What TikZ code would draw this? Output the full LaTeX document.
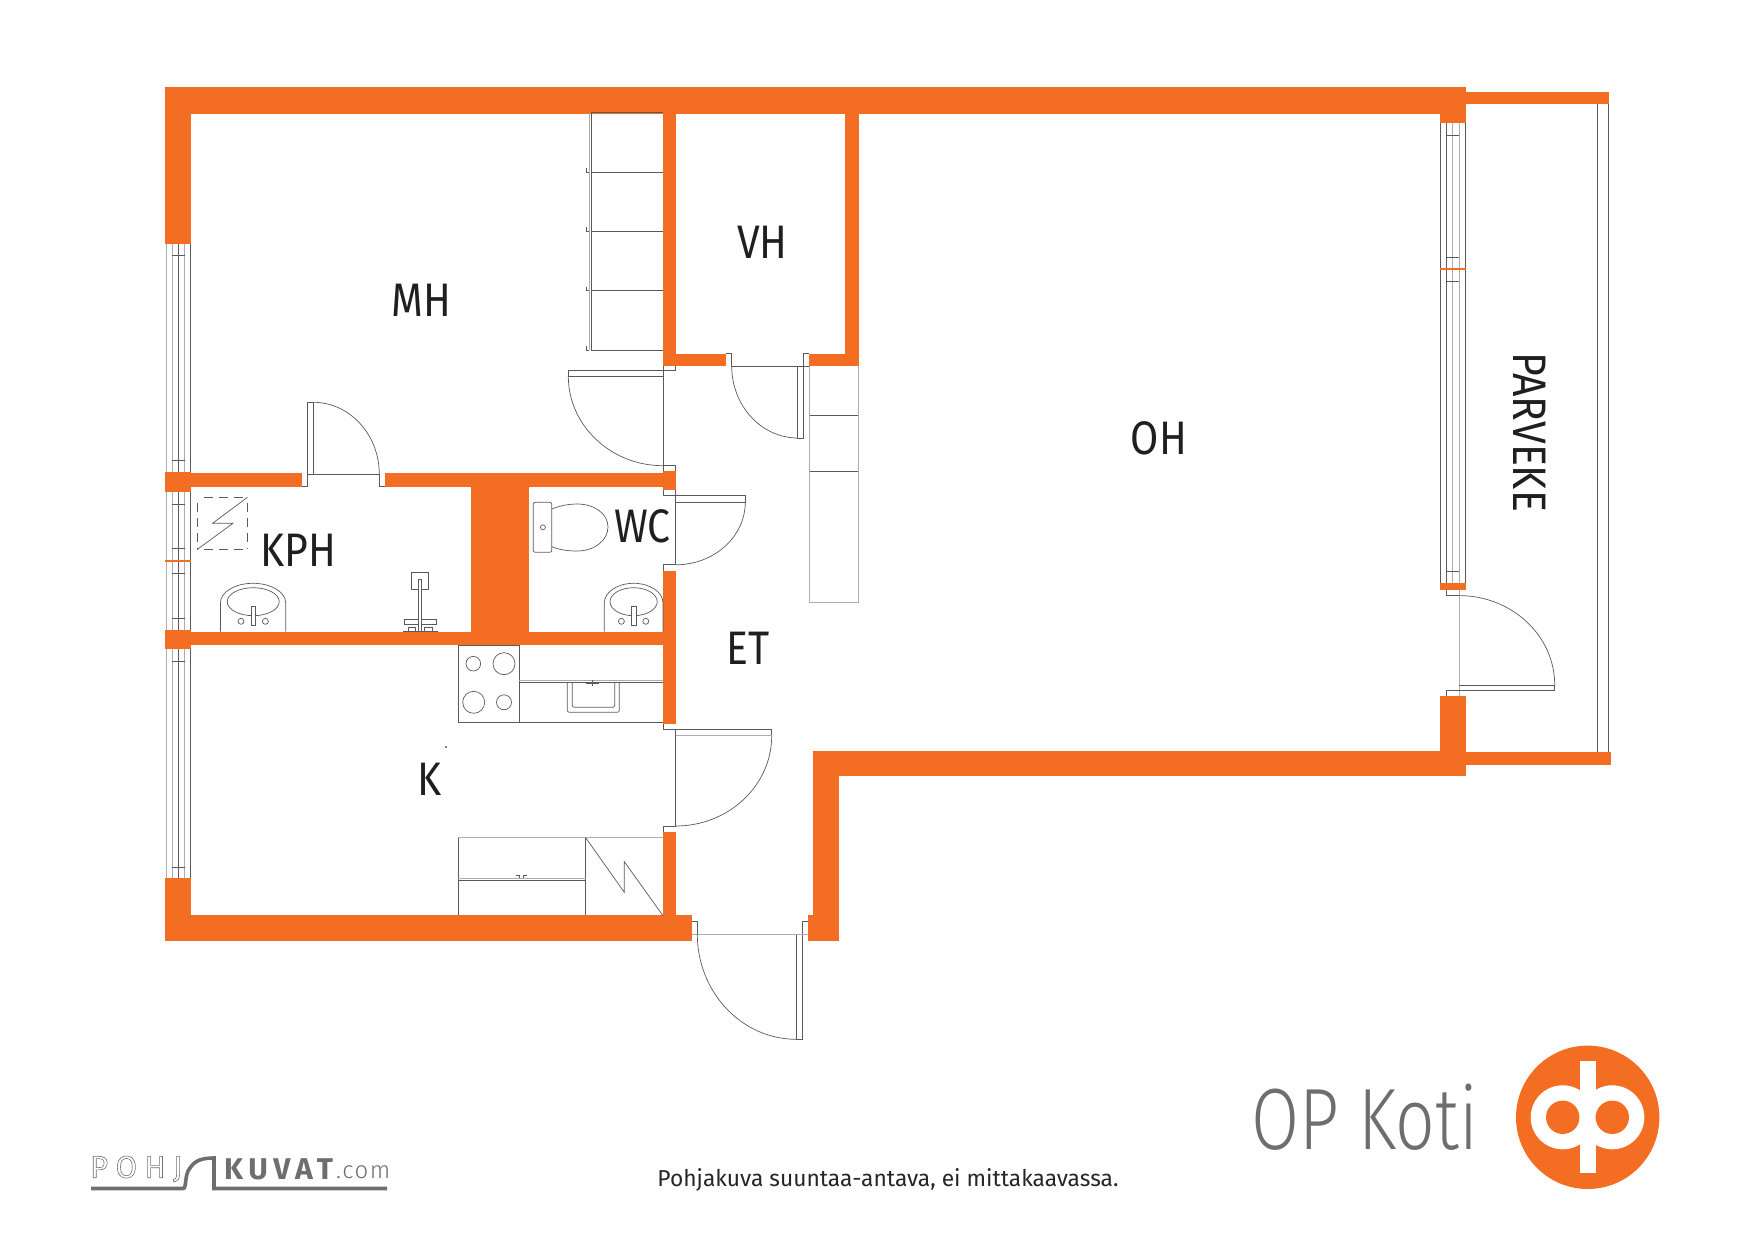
\documentclass[tikz,border=0pt]{standalone}
\usepackage{fontspec}
\setmainfont{Fira Sans}
\newfontfamily\roomfont[FakeStretch=.87]{Fira Sans}
\newfontfamily\kotifont[FakeStretch=.80]{Fira Sans Light}
\newfontfamily\notefont[FakeStretch=.99]{Fira Sans}
\newfontfamily\pohjfont[LetterSpace=24]{Fira Sans}
\newfontfamily\brandfont[LetterSpace=18]{Fira Sans}
\newfontfamily\comfont[LetterSpace=6]{Fira Sans Light}
\definecolor{oporange}{HTML}{F36E22}
\definecolor{linedark}{HTML}{5A5A5A}
\definecolor{linegray}{HTML}{ADADAD}
\definecolor{brandgray}{HTML}{6E6E6E}
\newcommand{\outlinetext}[1]{\special{pdf:code 1 Tr 0.6 w}#1\special{pdf:code 0 Tr}}
\newcommand{\swingarc}[4]{\draw[plan] (#1,#2) .. controls ({#1+.552*(#3-#1)},#2) and (#3,{#4-.552*(#4-#2)}) .. (#3,#4);}
\newcommand{\basin}[5]{
    \draw[plan] (#1,631.7) -- (#1,603) .. controls (#1,592) and ({#1+.224*(#2-#1)},583.3) .. ({.5*(#1+#2)},583.3) .. controls ({#2-.224*(#2-#1)},583.3) and (#2,592) .. (#2,603) -- (#2,631.7);
    \draw[plan] (#3,601.7) ellipse [x radius=#4, y radius=14];
    \draw[plan,fill=white] ({#3-2.3},606) rectangle ({#3+2.3},625);
    \draw[plan] ({#3-#5},621.3) circle (3) ({#3+#5},621.3) circle (3);
}
\tikzset{
    wall/.style={fill=oporange},
    plan/.style={draw=linedark,line width=.7pt},
    gline/.style={draw=linegray,line width=1pt},
    roomlabel/.style={font=\roomfont\fontsize{47}{47}\selectfont,inner sep=0pt,text=black!88},
}
\begin{document}
\begin{tikzpicture}[x=1pt,y=-1pt]
    \useasboundingbox (0,0) rectangle (1754,1241);

    % windows on the left
    \foreach \ya/\yb in {244/472,492/630,649/878}{
        \foreach \x in {178.5,190.7}{\draw[plan] (\x,\ya) -- (\x,\yb);}
        \foreach \x in {166,172,184.5}{\draw[gline] (\x,\ya) -- (\x,\yb);}
    }
    \foreach \y in {255,460,504,548,573,618,661,867}{\draw[plan] (172,\y) -- (184.5,\y);}
    \draw[oporange,line width=1.2pt] (165,561) -- (191,561);

    % balcony window and rail
    \foreach \x in {1440.5,1446.3,1465.7}{\draw[plan] (\x,123) -- (\x,584);}
    \foreach \x in {1452.5,1459}{\draw[gline] (\x,123) -- (\x,584);}
    \foreach \y in {135,257,281,571}{\draw[plan] (1446.3,\y) -- (1459,\y);}
    \draw[oporange,line width=1.2pt] (1440,269) -- (1465.7,269);
    \draw[plan] (1597.3,104) -- (1597.3,752) (1608.3,104) -- (1608.3,752);

    % walls
    \fill[wall] (165,87) rectangle (1465.7,113.6);
    \fill[wall] (165,87) rectangle (191,244);
    \fill[wall] (1440,87) rectangle (1465.7,123);
    \fill[wall] (1465.7,92) rectangle (1609,104.5);
    \fill[wall] (663,113) rectangle (676,366);
    \fill[wall] (845,113) rectangle (858.6,366);
    \fill[wall] (663,353.8) rectangle (726,366);
    \fill[wall] (809.3,353.8) rectangle (858.6,366);
    \fill[wall] (165,473) rectangle (301.8,487);
    \fill[wall] (165,472) rectangle (191,492);
    \fill[wall] (384.6,473) rectangle (675.7,487);
    \fill[wall] (663,470.7) rectangle (675.7,490);
    \fill[wall] (470.7,473) rectangle (529,645);
    \fill[wall] (165,631.7) rectangle (663,645);
    \fill[wall] (165,630) rectangle (191,649);
    \fill[wall] (663,570.7) rectangle (675.7,724);
    \fill[wall] (663,831.7) rectangle (675.7,915);
    \fill[wall] (165,877.7) rectangle (191,940.7);
    \fill[wall] (165,915) rectangle (691.7,940.7);
    \fill[wall] (813.3,750.6) rectangle (839.3,940.7);
    \fill[wall] (808,915) rectangle (813.3,940.7);
    \fill[wall] (813.3,750.6) rectangle (1465.7,776);
    \fill[wall] (1440,696) rectangle (1465.7,776);
    \fill[wall] (1440,583) rectangle (1465.7,590);
    \fill[wall] (1465.7,752) rectangle (1610.7,765);

    % wardrobes
    \draw[plan] (663,112.7) -- (591.5,112.7) -- (591.5,350) -- (663,350);
    \draw[gline] (589.3,112.7) -- (589.3,350);
    \foreach \y in {172.3,231.3,290.7}{\draw[plan] (591.5,\y) -- (663,\y);}
    \foreach \y in {172.3,231.3,290.7,350}{\draw[plan] (586,{\y-4}) -- (586,\y) -- (589.3,\y);}
    \draw[gline] (809.7,366) -- (809.7,602.7) -- (858.3,602.7) -- (858.3,366);
    \foreach \y in {415,471}{\draw[plan] (809.7,\y) -- (858.3,\y);}

    % doors
    \draw[plan] (307.3,486.7) -- (301.8,486.7) (307.3,486.7) -- (307.3,402.3) -- (313.3,402.3) -- (313.3,474.3) (307.3,474.3) -- (379.3,474.3) -- (379.3,486.7) -- (384.6,486.7);
    \swingarc{313.3}{402.3}{379.3}{474.3}
    \draw[plan] (675.7,366) -- (675.7,370.7) (568.3,370.7) -- (675.7,370.7) (663,366) -- (663,470.7) (675.7,470.7) -- (675.7,465.7) -- (663,465.7);
    \draw[plan] (568.3,370.7) -- (568.3,376) -- (663,376);
    \swingarc{663}{465.7}{568.3}{376}
    \draw[plan] (726,353.8) -- (731.7,353.8) -- (731.7,366) -- (809,366) (809,353.8) -- (803.3,353.8) -- (803.3,438) -- (797.7,438) -- (797.7,366);
    \swingarc{797.7}{438}{731.7}{366}
    \draw[plan] (663,490) -- (663,495.3) -- (745.3,495.3) -- (745.3,502) -- (675.7,502) (675.7,490) -- (675.7,564.8) -- (663,564.8) -- (663,570.7);
    \swingarc{675.7}{564.8}{745.3}{502}
    \draw[plan] (663,724) -- (663,729.3) -- (771.7,729.3) -- (771.7,735.7) (675.7,729.3) -- (675.7,826) -- (663,826) -- (663,831.7);
    \draw[gline] (675.7,735.7) -- (771.7,735.7);
    \swingarc{675.7}{826}{771.7}{735.7}
    \draw[plan] (691.7,921) -- (697.3,921) -- (697.3,934) (808,921) -- (802.3,921) -- (802.3,1039.3) -- (796.3,1039.3) -- (796.3,934);
    \draw[gline] (691.7,934) -- (808,934);
    \swingarc{796.3}{1039.3}{697.3}{934}
    \draw[gline] (1459,590) -- (1459,696);
    \draw[plan] (1446.3,590) -- (1446.3,595.6) -- (1459,595.6) (1446.3,696) -- (1446.3,690) -- (1554.7,690) -- (1554.7,685) -- (1459,685);
    \swingarc{1459}{595.6}{1554.7}{685}

    % bathroom
    \draw[plan] (197.5,549.3) rectangle (247.5,497.3);
    \draw[white,line width=1pt,dash pattern=on 6pt off 9pt] (197.5,497.3) -- (247.5,497.3) (197.5,497.3) -- (197.5,549.3) (197.5,549.3) -- (247.5,549.3) (247.5,497.3) -- (247.5,549.3);
    \draw[plan] (247.5,497.3) -- (212.5,523.3) -- (232.9,523.3) -- (197.5,549.3);
    \basin{220.4}{285.7}{253.2}{26}{12.2}
    \basin{604.3}{663}{633.6}{23.6}{12.2}
    \draw[plan] (411.8,572.3) rectangle (428.6,589.7);
    \draw[plan,fill=white] (418.6,579.3) rectangle (421.4,631);
    \draw[plan] (404.3,619.3) rectangle (418.6,624.3) (421.4,619.3) rectangle (436.8,624.3);
    \draw[plan] (408.6,627.3) rectangle (415.7,631) (424.3,627.3) rectangle (432,631);
    \draw[plan] (403,631) -- (438,631);
    \draw[plan,rounded corners=2pt] (533.2,502.3) rectangle (551.8,552.3);
    \draw[plan] (542.9,527.3) circle (2.5);
    \draw[plan] (551.8,509) .. controls (562,505) and (570,504) .. (577,504) .. controls (595,504) and (608,514) .. (608,527) .. controls (608,540) and (595,551) .. (577,551) .. controls (568,551) and (560,550) .. (551.8,546.7);

    % kitchen
    \draw[plan] (458.3,645) rectangle (519.3,722.3) (519.3,722.3) -- (663,722.3);
    \draw[gline] (519.3,680.3) -- (663,680.3);
    \draw[plan] (519.3,682.3) -- (663,682.3);
    \draw[plan,rounded corners=2pt] (567.3,682.3) -- (567.3,712.3) -- (619.3,712.3) -- (619.3,682.3);
    \draw[plan,rounded corners=2pt] (572.3,682.3) -- (572.3,707.3) -- (614.7,707.3) -- (614.7,682.3);
    \draw[plan] (585.5,683.5) -- (599,683.5) (592.3,680) -- (592.3,686);
    \draw[plan] (473.3,663.7) circle (7.3) (504,663.7) circle (11) (473.7,702.3) circle (11) (504,702.3) circle (7.5);
    \fill[black] (446,747) circle (.8);
    \draw[gline] (458.3,837.7) -- (663,837.7);
    \draw[plan] (458.3,837.7) -- (458.3,915) (585.7,837.7) -- (585.7,915);
    \draw[gline] (458.3,878) -- (585.7,878);
    \draw[plan] (458.3,880) -- (585.7,880);
    \draw[plan] (516,875) -- (519.5,875) -- (519.5,878) (527,875) -- (523.5,875) -- (523.5,878);
    \draw[plan] (585.7,837.7) -- (624.3,892.3) -- (624.3,861.7) -- (663,915.7);

    % rooms
    \node[roomlabel] (MH) at (421.7,300) {MH};
    \node[roomlabel] (VH) at (762.5,242) {VH};
    \node[roomlabel] (OH) at (1159,438) {OH};
    \node[roomlabel] (KPH) at (298,550) {KPH};
    \node[roomlabel] (WC) at (642.4,526) {WC};
    \node[roomlabel] (ET) at (748,648) {ET};
    \node[roomlabel] (K) at (429.5,779) {K};
    \node[roomlabel,rotate=-90] (PARVEKE) at (1530,432) {PARVEKE};
    \node[font=\notefont\fontsize{23}{23}\selectfont,inner sep=0pt,text=black!85] (note) at (888,1180) {Pohjakuva suuntaa-antava, ei mittakaavassa.};

    % OP logo
    \node[font=\kotifont\fontsize{87}{87}\selectfont,inner sep=0pt,text=brandgray] (koti) at (1364.5,1117) {OP Koti};
    \fill[oporange] (1587.7,1117.3) circle (71.7);
    \fill[white] (1562.7,1117.3) circle (32) (1612.3,1117.3) circle (32);
    \fill[white] (1580,1060.7) rectangle (1595.7,1173.3);
    \fill[oporange] (1562.7,1117.3) circle (16.7) (1612.3,1117.3) circle (16.7);

    % pohjakuvat logo
    \draw[brandgray,line width=3.6pt] (91,1188.5) -- (183,1188.5) .. controls (187,1188.5) and (184,1175) .. (190,1168) .. controls (195,1160) and (203,1158) .. (214,1158) -- (214,1188.5) -- (387,1188.5);
    \node[font=\pohjfont\fontsize{31}{31}\selectfont,inner sep=0pt,text=brandgray,anchor=west] (pohj) at (90,1169) {\outlinetext{POHJ}};
    \node[font=\brandfont\bfseries\fontsize{30}{30}\selectfont,inner sep=0pt,text=brandgray,anchor=west] (kuvat) at (224,1169) {KUVAT};
    \node[font=\comfont\fontsize{24}{24}\selectfont,inner sep=0pt,text=brandgray,anchor=west] (com) at (336,1172) {.com};
\end{tikzpicture}
\end{document}
